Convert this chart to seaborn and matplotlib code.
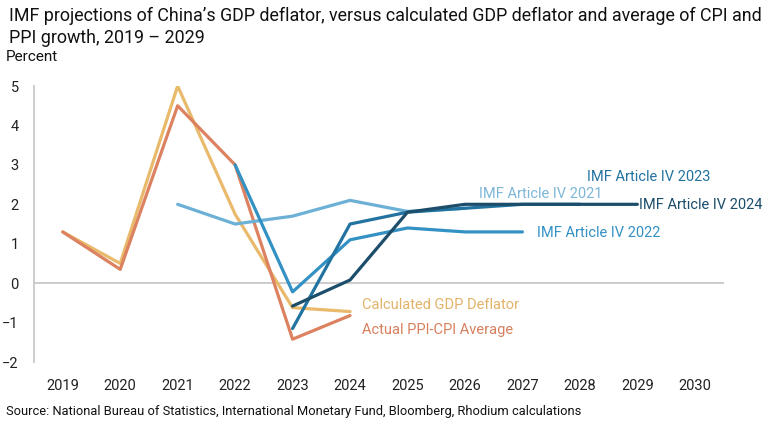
import pandas as pd
import matplotlib
matplotlib.use("Agg")
import matplotlib.pyplot as plt
import seaborn as sns

# Data
years_hist = [2019, 2020, 2021, 2022, 2023, 2024]
calc_deflator = [1.3, 0.5, 5.0, 1.75, -0.62, -0.72]
ppi_cpi_avg = [1.3, 0.35, 4.5, 3.0, -1.42, -0.82]

years_2021 = [2021, 2022, 2023, 2024, 2025, 2026]
imf_2021 = [2.0, 1.5, 1.7, 2.1, 1.82, 1.9]

years_2022 = [2022, 2023, 2024, 2025, 2026, 2027]
imf_2022 = [3.0, -0.22, 1.1, 1.4, 1.3, 1.3]

years_2023 = [2023, 2024, 2025, 2026, 2027, 2028]
imf_2023 = [-1.15, 1.5, 1.8, 1.9, 2.0, 2.0]

years_2024 = [2023, 2024, 2025, 2026, 2027, 2028, 2029]
imf_2024 = [-0.58, 0.08, 1.8, 2.0, 2.0, 2.0, 2.0]

x_ticks = list(range(2019, 2031))
y_ticks = list(range(-2, 6))

series = [
    ("Calculated GDP Deflator", years_hist, calc_deflator, "#E9BA6B"),
    ("Actual PPI-CPI Average", years_hist, ppi_cpi_avg, "#DC8260"),
    ("IMF Article IV 2021", years_2021, imf_2021, "#6DB0D6"),
    ("IMF Article IV 2022", years_2022, imf_2022, "#3391C4"),
    ("IMF Article IV 2023", years_2023, imf_2023, "#2373A1"),
    ("IMF Article IV 2024", years_2024, imf_2024, "#1C4D6B"),
]

frames = []
for name, yrs, vals, _ in series:
    frames.append(pd.DataFrame({"year": yrs, "value": vals, "series": name}))
df = pd.concat(frames, ignore_index=True)
palette = {name: c for name, _, _, c in series}

sns.set_theme(style="white")
plt.rcParams["font.family"] = ["Roboto", "DejaVu Sans"]

fig = plt.figure(figsize=(7.8, 4.3), dpi=100)
ax = fig.add_axes([0.0436, 0.158, 0.884, 0.642])

ax.axhline(0, color="#C8C8C8", lw=1.3, zorder=0)
sns.lineplot(data=df, x="year", y="value", hue="series", palette=palette,
             lw=2.3, legend=False, ax=ax, sort=False)

ax.set_xlim(2018.5, 2030.5)
ax.set_ylim(-2, 5)
ax.set_xticks(x_ticks)
ax.set_yticks(y_ticks)
ax.tick_params(axis="both", length=0, labelsize=10.5, colors="#222222")
ax.tick_params(axis="x", pad=12)
ax.tick_params(axis="y", pad=11)
for s in ["top", "right", "bottom"]:
    ax.spines[s].set_visible(False)
ax.spines["left"].set_color("#C8C8C8")
ax.spines["left"].set_linewidth(1.3)
ax.set_xlabel("")
ax.set_ylabel("")

# direct labels
ax.text(2024.2, -0.55, "Calculated GDP Deflator", color="#E2B36A", fontsize=10.5, va="center")
ax.text(2024.2, -1.18, "Actual PPI-CPI Average", color="#D8805E", fontsize=10.5, va="center")
ax.text(2026.25, 2.25, "IMF Article IV 2021", color="#7DB7D8", fontsize=10.5, va="center")
ax.text(2027.25, 1.28, "IMF Article IV 2022", color="#3391C4", fontsize=10.5, va="center")
ax.text(2028.12, 2.7, "IMF Article IV 2023", color="#2373A1", fontsize=10.5, va="center")
ax.text(2029.03, 1.98, "IMF Article IV 2024", color="#1C4D6B", fontsize=10.5, va="center")

fig.text(0.012, 0.984, "IMF projections of China\u2019s GDP deflator, versus calculated GDP deflator and average of CPI and\nPPI growth, 2019 \u2013 2029",
         fontsize=12.9, va="top", ha="left", color="#111111", linespacing=1.3)
fig.text(0.008, 0.868, "Percent", fontsize=11, va="center", ha="left", color="#111111")
fig.text(0.008, 0.043, "Source: National Bureau of Statistics, International Monetary Fund, Bloomberg, Rhodium calculations",
         fontsize=9.3, va="center", ha="left", color="#111111")

fig.savefig("out.png", dpi=100, facecolor="white")
